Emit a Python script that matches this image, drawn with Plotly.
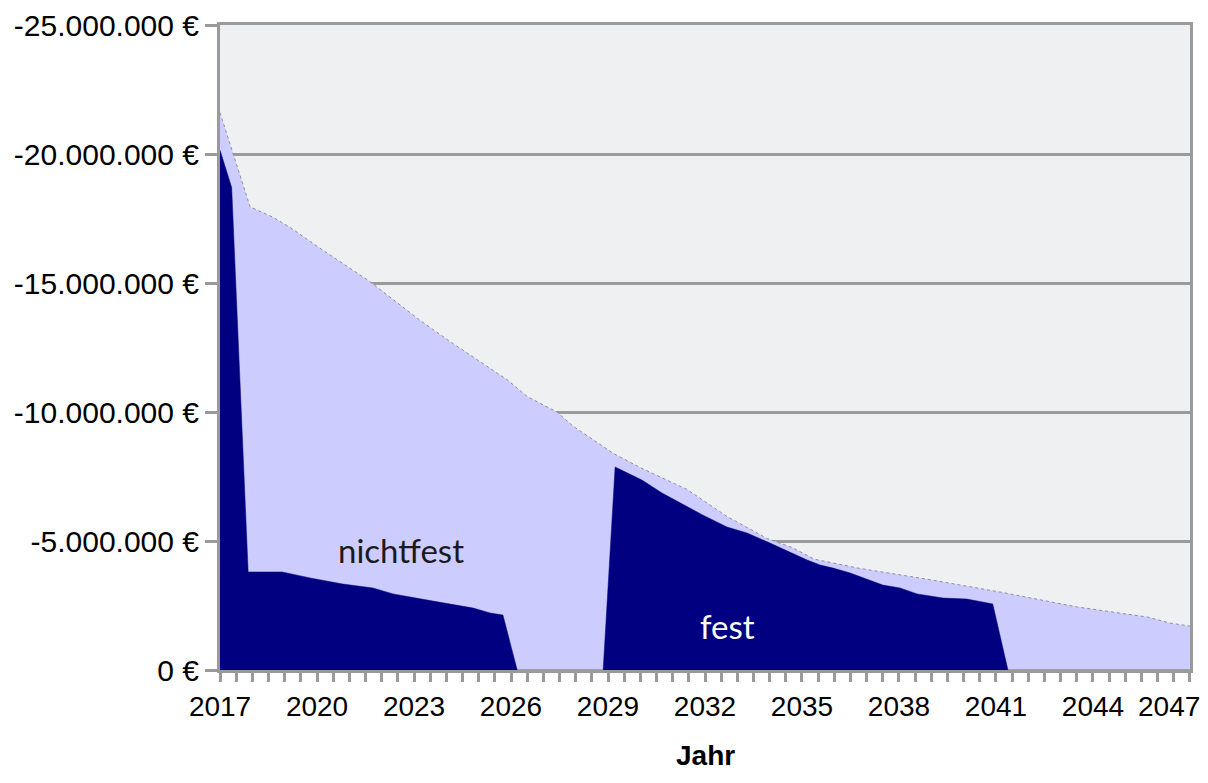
import plotly.graph_objects as go

# Gesamtvolumen (Obergrenze der hellen Fläche), Jahr -> Euro
jahre_gesamt = [2017.0, 2017.93, 2018.64, 2019.17, 2020.09, 2021.11, 2021.64, 2023.19,
                2024.21, 2025.88, 2026.5, 2027.42, 2027.92, 2029.16, 2029.99, 2031.44,
                2032.68, 2033.92, 2034.69, 2035.37, 2036.73, 2038.96, 2041.22, 2043.48,
                2045.7, 2046.38, 2047.0]
gesamt = [-21600000, -17950000, -17550000, -17150000, -16350000, -15500000, -15050000,
          -13550000, -12650000, -11250000, -10600000, -10000000, -9450000, -8400000,
          -7850000, -7000000, -5950000, -5100000, -4750000, -4300000, -3950000,
          -3500000, -3000000, -2450000, -2050000, -1820000, -1700000]

# fester Anteil (dunkle Fläche)
jahre_fest = [2017.0, 2017.36, 2017.87, 2018.92, 2019.78, 2020.8, 2021.73, 2022.35,
              2023.59, 2024.83, 2025.35, 2025.75, 2026.19, 2028.85, 2029.22, 2030.05,
              2030.67, 2031.94, 2032.68, 2033.3, 2034.01, 2034.63, 2035.16, 2035.56,
              2035.96, 2036.49, 2037.5, 2038.03, 2038.56, 2039.36, 2040.1, 2040.9,
              2041.37, 2047.0]
fest = [-20150000, -18700000, -3800000, -3800000, -3570000, -3330000, -3180000, -2950000,
        -2670000, -2400000, -2210000, -2130000, 0, 0, -7870000, -7360000, -6860000,
        -6000000, -5540000, -5310000, -4920000, -4570000, -4260000, -4070000, -3950000,
        -3760000, -3290000, -3180000, -2950000, -2790000, -2750000, -2560000, 0, 0]

y_tickvals = [0, -5000000, -10000000, -15000000, -20000000, -25000000]
y_ticktext = ["0 €", "-5.000.000 €", "-10.000.000 €", "-15.000.000 €",
              "-20.000.000 €", "-25.000.000 €"]
x_tickvals = [2017, 2020, 2023, 2026, 2029, 2032, 2035, 2038, 2041, 2044, 2047]
x_ticktext = ["2017", "2020", "2023", "2026", "2029", "2032", "2035", "2038", "2041",
              "2044", "2047"]
x_title = "Jahr"

label_nichtfest = ("nichtfest", 2022.6, -4650000)
label_fest = ("fest", 2032.7, -1700000)

GRAY = "#9A9A9A"
FONT = "Liberation Sans"
XFS = 28

fig = go.Figure()
fig.add_trace(go.Scatter(
    x=jahre_gesamt, y=gesamt, mode="lines", fill="tozeroy",
    fillcolor="#CCCCFF", line=dict(color="#8E8E9A", width=1, dash="dot"),
    name="nichtfest", hoverinfo="skip", showlegend=False))
fig.add_trace(go.Scatter(
    x=jahre_fest, y=fest, mode="lines", fill="tozeroy",
    fillcolor="#000080", line=dict(color="#000080", width=0.5),
    name="fest", hoverinfo="skip", showlegend=False))

fig.add_annotation(text=label_nichtfest[0], x=label_nichtfest[1], y=label_nichtfest[2],
                   showarrow=False, font=dict(family="Lato", size=33, color="#1a1a1a"))
fig.add_annotation(text=label_fest[0], x=label_fest[1], y=label_fest[2],
                   showarrow=False, font=dict(family="Lato", size=33, color="white"))

# last x label kept inside the visible window (the reference shows it at the edge)
fig.add_annotation(text=x_ticktext[-1], x=x_tickvals[-1], xref="x", y=0, yref="paper",
                   yanchor="top", xanchor="right", xshift=12, yshift=-19,
                   showarrow=False, font=dict(family=FONT, size=XFS, color="black"))

# axis title
fig.add_annotation(text="<b>" + x_title + "</b>", x=0.5, xref="paper", y=0, yref="paper",
                   yanchor="middle", xanchor="center", yshift=-85, showarrow=False,
                   borderpad=0, font=dict(family=FONT, size=28, color="black"))

fig.update_layout(
    width=1200, height=767,
    margin=dict(l=212, r=18, t=17, b=105),
    paper_bgcolor="white", plot_bgcolor="#EFF0F2",
    font=dict(family=FONT, size=28, color="black"),
    xaxis=dict(
        range=[2016.999, 2047.001], tickvals=x_tickvals[:-1], ticktext=x_ticktext[:-1],
        showgrid=False, zeroline=False, automargin=False,
        showline=True, linecolor=GRAY, linewidth=3, mirror=True,
        ticks="outside", ticklen=9, tickwidth=3, tickcolor=GRAY,
        minor=dict(dtick=0.5, tick0=2017, ticks="outside", ticklen=9, tickwidth=3,
                   tickcolor=GRAY, showgrid=False),
        tickfont=dict(family=FONT, size=XFS),
    ),
    yaxis=dict(
        range=[0, -25000000], tickvals=y_tickvals, ticktext=y_ticktext,
        showgrid=True, gridcolor=GRAY, gridwidth=3, zeroline=False, automargin=False,
        showline=True, linecolor=GRAY, linewidth=3, mirror=True,
        ticks="outside", ticklen=12, tickwidth=3, tickcolor=GRAY,
        tickfont=dict(family=FONT, size=30),
    ),
)

fig.write_html("out.html")
